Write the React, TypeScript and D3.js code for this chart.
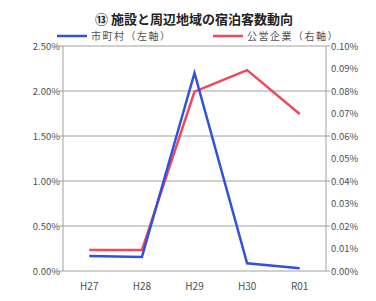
import React from "react";
import * as d3 from "d3";

const categories = ["H27", "H28", "H29", "H30", "R01"];
const cityValues = [0.167, 0.155, 2.2, 0.085, 0.03]; // 市町村（左軸） %
const publicValues = [0.0093, 0.0093, 0.0797, 0.0893, 0.0698]; // 公営企業（右軸） %
const leftTicks = [0, 0.5, 1.0, 1.5, 2.0, 2.5];
const rightTicks = [0, 0.01, 0.02, 0.03, 0.04, 0.05, 0.06, 0.07, 0.08, 0.09, 0.1];
const rightMajor = [0, 0.02, 0.04, 0.06, 0.08, 0.1];

const W = 376, H = 301;
const left = 63, right = 326, top = 46, bottom = 271;
const font = "'Noto Sans CJK JP', 'DejaVu Sans', sans-serif";

export default function App() {
  const x = d3.scaleBand<string>().domain(categories).range([left, right]).padding(0);
  const yL = d3.scaleLinear().domain([0, 2.5]).range([bottom, top]);
  const yR = d3.scaleLinear().domain([0, 0.1]).range([bottom, top]);
  const cx = (c: string) => (x(c) ?? 0) + x.bandwidth() / 2;
  const lineL = d3.line<number>().x((_, i) => cx(categories[i])).y((d) => yL(d));
  const lineR = d3.line<number>().x((_, i) => cx(categories[i])).y((d) => yR(d));
  const blue = "#3050e0";
  const red = "#f04858";
  const grid = "#a0a0a0";
  const txt = "#505050";
  return (
    <svg width={W} height={H} style={{ position: "absolute", left: 0, top: 0, background: "#fff" }} fontFamily={font}>
      <text x={194} y={24} textAnchor="middle" fontSize={13} fontWeight="bold" fill="#222">
        ⑬ 施設と周辺地域の宿泊客数動向
      </text>
      {/* legend */}
      <line x1={57} x2={87} y1={36} y2={36} stroke={blue} strokeWidth={2.5} />
      <text x={91} y={39.5} fontSize={10} fill={txt} letterSpacing={1.5}>市町村（左軸）</text>
      <line x1={213} x2={243} y1={36} y2={36} stroke={red} strokeWidth={2.5} />
      <text x={247} y={39.5} fontSize={10} fill={txt} letterSpacing={1.5}>公営企業（右軸）</text>
      {/* gridlines */}
      {leftTicks.map((t) => (
        <g key={"g" + t}>
          <line x1={left} x2={right} y1={yL(t)} y2={yL(t)} stroke={grid} strokeWidth={1} />
          <line x1={left - 4} x2={left} y1={yL(t)} y2={yL(t)} stroke={grid} strokeWidth={1} />
          <text x={left - 3} y={yL(t) + 3.5} textAnchor="end" fontSize={9.5} fill={txt}>
            {t.toFixed(2) + "%"}
          </text>
        </g>
      ))}
      {rightMajor.map((t) => (
        <line key={"rm" + t} x1={right} x2={right + 4} y1={yR(t)} y2={yR(t)} stroke={grid} strokeWidth={1} />
      ))}
      {rightTicks.map((t) => (
        <text key={"r" + t} x={right + 5} y={yR(t) + 3.5} fontSize={9.5} fill={txt}>
          {t.toFixed(2) + "%"}
        </text>
      ))}
      <line x1={left} x2={left} y1={top} y2={bottom} stroke={grid} strokeWidth={1} />
      <line x1={right} x2={right} y1={top} y2={bottom} stroke={grid} strokeWidth={1} />
      {categories.map((c) => (
        <text key={c} x={cx(c)} y={290} textAnchor="middle" fontSize={10} fill={txt}>
          {c}
        </text>
      ))}
      <path d={lineR(publicValues) ?? ""} fill="none" stroke={red} strokeWidth={2.5} />
      <path d={lineL(cityValues) ?? ""} fill="none" stroke={blue} strokeWidth={2.5} />
    </svg>
  );
}
